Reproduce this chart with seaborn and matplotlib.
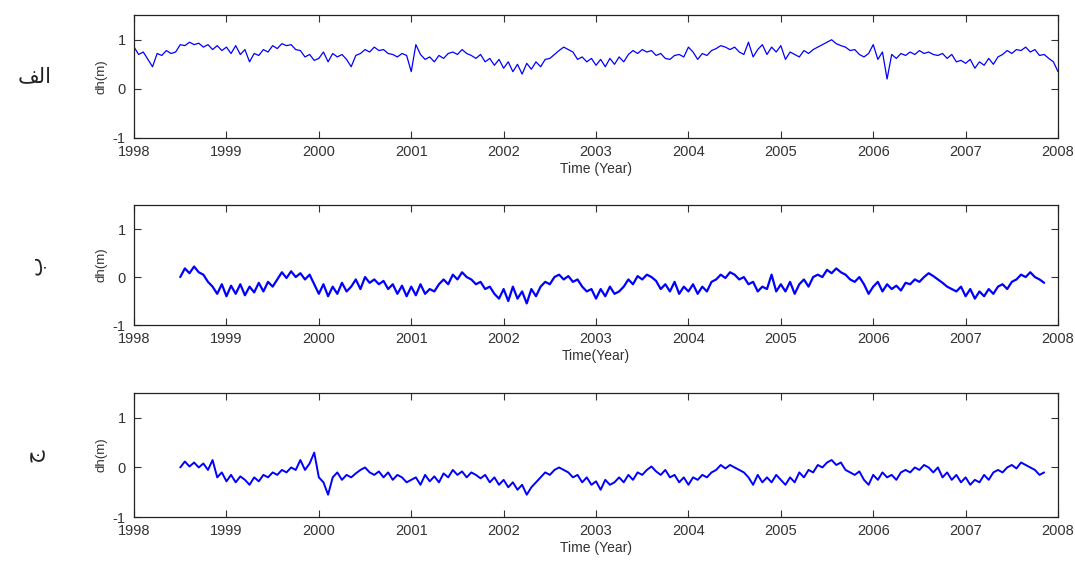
import numpy as np
import pandas as pd
import matplotlib
matplotlib.use("Agg")
import matplotlib.pyplot as plt
import seaborn as sns

# Time axis settings (decimal years)
step = 0.05
start_a = 1998.0
start_bc = 1998.5

# Panel A: height change (m), 1998.0 - 2008.0
dh_a = [
    0.85, 0.70, 0.75, 0.60, 0.45, 0.72, 0.68, 0.78, 0.72, 0.75, 0.90, 0.88, 0.95, 0.90, 0.93, 0.85, 0.90, 0.80, 0.88, 0.78,
    0.85, 0.72, 0.88, 0.70, 0.80, 0.55, 0.72, 0.68, 0.80, 0.75, 0.88, 0.82, 0.92, 0.88, 0.90, 0.80, 0.78, 0.65, 0.70, 0.58,
    0.62, 0.75, 0.55, 0.72, 0.65, 0.70, 0.60, 0.45, 0.68, 0.72, 0.80, 0.75, 0.85, 0.78, 0.80, 0.72, 0.70, 0.65, 0.72, 0.68,
    0.35, 0.90, 0.70, 0.60, 0.65, 0.55, 0.68, 0.62, 0.72, 0.75, 0.70, 0.80, 0.72, 0.68, 0.62, 0.70, 0.55, 0.62, 0.48, 0.60,
    0.42, 0.55, 0.35, 0.50, 0.30, 0.52, 0.40, 0.55, 0.45, 0.60, 0.62, 0.70, 0.78, 0.85, 0.80, 0.75, 0.60, 0.65, 0.55, 0.62,
    0.48, 0.60, 0.45, 0.62, 0.50, 0.65, 0.55, 0.70, 0.78, 0.72, 0.80, 0.75, 0.78, 0.68, 0.72, 0.62, 0.60, 0.68, 0.70, 0.65,
    0.85, 0.75, 0.60, 0.72, 0.68, 0.78, 0.82, 0.88, 0.85, 0.80, 0.85, 0.75, 0.70, 0.95, 0.65, 0.80, 0.90, 0.70, 0.85, 0.75,
    0.88, 0.60, 0.75, 0.70, 0.65, 0.78, 0.72, 0.80, 0.85, 0.90, 0.95, 1.00, 0.92, 0.88, 0.85, 0.78, 0.80, 0.70, 0.65, 0.72,
    0.90, 0.60, 0.75, 0.20, 0.70, 0.62, 0.72, 0.68, 0.75, 0.70, 0.78, 0.72, 0.75, 0.70, 0.68, 0.72, 0.62, 0.70, 0.55, 0.58,
    0.52, 0.60, 0.42, 0.55, 0.48, 0.62, 0.50, 0.65, 0.70, 0.78, 0.72, 0.80, 0.78, 0.85, 0.75, 0.80, 0.68, 0.70, 0.62, 0.55,
    0.35,
]

# Panel B: height change (m), 1998.5 - 2007.85
dh_b = [
    0.00, 0.18, 0.08, 0.22, 0.10, 0.05, -0.10, -0.20, -0.35, -0.15,
    -0.40, -0.18, -0.35, -0.15, -0.38, -0.20, -0.32, -0.12, -0.30, -0.10, -0.20, -0.05, 0.10, -0.02, 0.12, 0.00, 0.08, -0.05, 0.05, -0.15,
    -0.35, -0.15, -0.40, -0.20, -0.35, -0.12, -0.30, -0.20, -0.05, -0.25, 0.00, -0.12, -0.05, -0.15, -0.08, -0.25, -0.15, -0.35, -0.18, -0.40,
    -0.20, -0.38, -0.15, -0.35, -0.25, -0.30, -0.15, -0.05, -0.15, 0.05, -0.05, 0.10, 0.00, -0.05, -0.15, -0.10, -0.25, -0.20, -0.35, -0.45,
    -0.25, -0.50, -0.20, -0.45, -0.30, -0.55, -0.25, -0.40, -0.20, -0.10, -0.15, 0.00, 0.05, -0.05, 0.02, -0.10, -0.05, -0.20, -0.30, -0.25,
    -0.45, -0.25, -0.40, -0.20, -0.35, -0.30, -0.20, -0.05, -0.15, 0.02, -0.05, 0.05, 0.00, -0.08, -0.25, -0.15, -0.30, -0.10, -0.35, -0.20,
    -0.30, -0.15, -0.35, -0.20, -0.30, -0.10, -0.05, 0.05, -0.02, 0.10, 0.05, -0.05, 0.00, -0.15, -0.10, -0.30, -0.20, -0.25, 0.05, -0.30,
    -0.15, -0.30, -0.10, -0.35, -0.15, -0.05, -0.20, 0.00, 0.05, 0.00, 0.15, 0.08, 0.18, 0.10, 0.05, -0.05, -0.10, 0.00, -0.15, -0.35,
    -0.20, -0.10, -0.30, -0.15, -0.25, -0.18, -0.28, -0.12, -0.15, -0.05, -0.10, 0.00, 0.08, 0.02, -0.05, -0.12, -0.20, -0.25, -0.30, -0.20,
    -0.40, -0.25, -0.45, -0.30, -0.40, -0.25, -0.35, -0.20, -0.15, -0.25, -0.10, -0.05, 0.05, 0.00, 0.10, 0.00, -0.05, -0.12,
]

# Panel C: height change (m), 1998.5 - 2007.85
dh_c = [
    0.00, 0.12, 0.02, 0.10, 0.00, 0.08, -0.05, 0.15, -0.20, -0.10,
    -0.28, -0.15, -0.30, -0.18, -0.25, -0.35, -0.20, -0.28, -0.15, -0.20, -0.10, -0.15, -0.05, -0.10, 0.00, -0.05, 0.15, -0.05, 0.08, 0.30,
    -0.20, -0.30, -0.55, -0.20, -0.10, -0.25, -0.15, -0.20, -0.12, -0.05, 0.00, -0.10, -0.15, -0.08, -0.20, -0.10, -0.25, -0.15, -0.20, -0.30,
    -0.25, -0.20, -0.35, -0.15, -0.28, -0.18, -0.30, -0.12, -0.20, -0.05, -0.15, -0.08, -0.20, -0.10, -0.15, -0.22, -0.15, -0.30, -0.20, -0.35,
    -0.25, -0.40, -0.30, -0.45, -0.35, -0.55, -0.40, -0.30, -0.20, -0.10, -0.15, -0.05, 0.00, -0.05, -0.10, -0.20, -0.15, -0.30, -0.20, -0.35,
    -0.28, -0.45, -0.25, -0.35, -0.30, -0.20, -0.30, -0.15, -0.25, -0.10, -0.15, -0.05, 0.02, -0.08, -0.15, -0.05, -0.20, -0.15, -0.30, -0.20,
    -0.35, -0.20, -0.25, -0.15, -0.20, -0.10, -0.05, 0.05, -0.02, 0.05, 0.00, -0.05, -0.10, -0.20, -0.35, -0.15, -0.30, -0.20, -0.30, -0.15,
    -0.25, -0.35, -0.20, -0.30, -0.10, -0.20, -0.05, -0.10, 0.05, 0.00, 0.10, 0.15, 0.05, 0.10, -0.05, -0.10, -0.15, -0.08, -0.25, -0.35,
    -0.15, -0.25, -0.10, -0.20, -0.15, -0.25, -0.10, -0.05, -0.10, 0.00, -0.05, 0.05, 0.00, -0.10, 0.00, -0.20, -0.10, -0.25, -0.15, -0.30,
    -0.20, -0.35, -0.25, -0.30, -0.15, -0.25, -0.10, -0.05, -0.10, 0.00, 0.05, -0.02, 0.10, 0.05, 0.00, -0.05, -0.15, -0.10,
]

year_ticks = list(range(1998, 2009))
dh_ticks = [-1, 0, 1]
panel_letters = ["\uFED2\uFEDF\u0627", "\u0628", "\u062C"]   # الف ، ب ، ج
letter_rotation = [0, 90, 90]
x_labels = ["Time (Year)", "Time(Year)", "Time (Year)"]
line_widths = [0.9, 1.6, 1.4]

sns.set_style("ticks")
plt.rcParams["font.family"] = ["Liberation Sans", "DejaVu Sans"]
plt.rcParams["axes.unicode_minus"] = False

fig = plt.figure(figsize=(10.75, 5.63), dpi=100)

# [left, bottom, width, height] of each panel
boxes = [
    [0.1247, 0.755, 0.8595, 0.218],
    [0.1247, 0.4227, 0.8595, 0.213],
    [0.1247, 0.0817, 0.8595, 0.220],
]

series = [(start_a, dh_a), (start_bc, dh_b), (start_bc, dh_c)]
text_color = "#333333"

for i, (box, (t0, vals)) in enumerate(zip(boxes, series)):
    ax = fig.add_axes(box)
    df = pd.DataFrame({"t": t0 + step * np.arange(len(vals)), "dh": vals})
    sns.lineplot(data=df, x="t", y="dh", ax=ax, color="#0000ff", linewidth=line_widths[i])
    ax.set_xlim(1998, 2008)
    ax.set_ylim(-1, 1.5)
    ax.set_xticks(year_ticks)
    ax.set_yticks(dh_ticks)
    ax.tick_params(direction="in", top=True, right=True, length=5, width=0.8,
                   labelsize=10.5, colors=text_color)
    ax.tick_params(axis="x", pad=5)
    ax.tick_params(axis="y", pad=6)
    for s in ax.spines.values():
        s.set_visible(True)
        s.set_color("#222222")
        s.set_linewidth(0.9)
    ax.set_xlabel(x_labels[i], fontsize=10, color=text_color, labelpad=2)
    ax.set_ylabel("dh(m)", fontsize=9.5, color=text_color, labelpad=4)
    ymid = box[1] + box[3] / 2
    fig.text(0.032, ymid, panel_letters[i], fontsize=15, color="#222222",
             ha="center", va="center", rotation=letter_rotation[i],
             family=["DejaVu Sans"])

fig.savefig("out.png", dpi=100)
